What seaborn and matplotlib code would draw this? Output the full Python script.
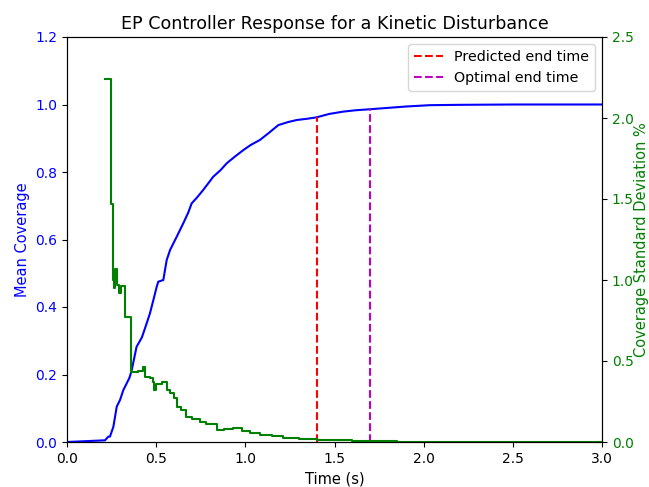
import matplotlib
matplotlib.use("Agg")
import matplotlib.pyplot as plt
import seaborn as sns
import pandas as pd

# Mean coverage (blue, left axis)
t_mean = [0.0, 0.213, 0.232, 0.241, 0.26, 0.279, 0.297, 0.316, 0.335, 0.35, 0.363,
          0.39, 0.42, 0.447, 0.465, 0.484, 0.503, 0.512, 0.54, 0.559, 0.578,
          0.598, 0.615, 0.652, 0.68, 0.699, 0.73, 0.764, 0.79, 0.82, 0.86, 0.896,
          0.94, 0.989, 1.03, 1.082, 1.13, 1.185, 1.24, 1.288, 1.35, 1.40, 1.47,
          1.55, 1.62, 1.70, 1.80, 1.90, 2.035, 2.2, 2.5, 3.0]
mean_cov = [0.0, 0.005, 0.016, 0.016, 0.045, 0.105, 0.124, 0.154, 0.174, 0.19, 0.213,
            0.282, 0.31, 0.352, 0.381, 0.42, 0.46, 0.475, 0.48, 0.539, 0.569,
            0.59, 0.608, 0.648, 0.68, 0.707, 0.725, 0.747, 0.765, 0.786, 0.805, 0.826,
            0.845, 0.865, 0.88, 0.895, 0.915, 0.939, 0.948, 0.954, 0.958, 0.962, 0.972,
            0.979, 0.983, 0.986, 0.99, 0.994, 0.998, 0.999, 1.0, 1.0]

# Coverage standard deviation % (green, right axis)
t_std = [0.213, 0.247, 0.256, 0.262, 0.27, 0.28, 0.29, 0.305, 0.325, 0.357,
         0.40, 0.428, 0.44, 0.466, 0.48, 0.49, 0.50, 0.53, 0.56, 0.58, 0.60,
         0.615, 0.64, 0.67, 0.70, 0.746, 0.78, 0.84, 0.88, 0.933, 0.98, 1.026,
         1.08, 1.15, 1.21, 1.3, 1.4, 1.5, 1.6, 1.7, 1.85, 2.0, 2.2, 3.0]
std_cov = [2.24, 1.47, 1.0, 0.95, 1.07, 0.97, 0.92, 0.96, 0.77, 0.43,
           0.44, 0.465, 0.40, 0.393, 0.37, 0.32, 0.36, 0.372, 0.32, 0.30, 0.27,
           0.218, 0.20, 0.156, 0.14, 0.125, 0.11, 0.074, 0.08, 0.085, 0.07, 0.054,
           0.045, 0.035, 0.023, 0.02, 0.015, 0.012, 0.008, 0.005, 0.003, 0.001, 0.0, 0.0]

# End-time markers
end_labels = ["Predicted end time", "Optimal end time"]
end_times = [1.4, 1.7]
end_heights = [0.962, 0.986]
end_colors = ["r", "m"]

dpi = 100
fig, ax1 = plt.subplots(figsize=(649 / dpi, 487 / dpi), dpi=dpi)
fig.subplots_adjust(left=67 / 649, right=602 / 649, top=1 - 37 / 487, bottom=1 - 442 / 487)

df_mean = pd.DataFrame({"t": t_mean, "v": mean_cov})
sns.lineplot(data=df_mean, x="t", y="v", color="b", ax=ax1, linewidth=1.5, estimator=None)

for lab, xt, h, c in zip(end_labels, end_times, end_heights, end_colors):
    ax1.vlines(xt, 0, h, colors=c, linestyles="--", label=lab, linewidth=1.5)

ax1.set_xlim(0, 3)
ax1.set_ylim(0, 1.2)
ax1.set_xticks([0, 0.5, 1.0, 1.5, 2.0, 2.5, 3.0])
ax1.set_yticks([0, 0.2, 0.4, 0.6, 0.8, 1.0, 1.2])
ax1.set_xlabel("Time (s)", fontsize=10.5)
ax1.set_ylabel("Mean Coverage", color="b", fontsize=10.5)
ax1.tick_params(axis="y", labelcolor="b")
ax1.set_title("EP Controller Response for a Kinetic Disturbance", fontsize=12.6)
ax1.legend(loc="upper right", fontsize=10.3)

ax2 = ax1.twinx()
df_std = pd.DataFrame({"t": t_std, "v": std_cov})
sns.lineplot(data=df_std, x="t", y="v", color="g", drawstyle="steps-post",
             ax=ax2, linewidth=1.5, estimator=None)
ax2.set_ylim(0, 2.5)
ax2.set_yticks([0, 0.5, 1.0, 1.5, 2.0, 2.5])
ax2.set_xlabel("")
ax2.set_ylabel("Coverage Standard Deviation %", color="g", fontsize=10.5, labelpad=0)
ax2.tick_params(axis="y", labelcolor="g")

fig.savefig("out.png", dpi=dpi)
